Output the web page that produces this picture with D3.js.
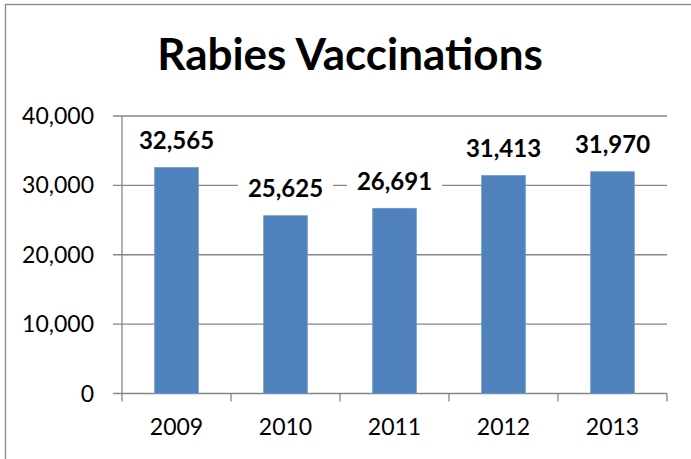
<!DOCTYPE html>
<html>
<head>
<meta charset="utf-8">
<script src="https://cdn.jsdelivr.net/npm/d3@7"></script>
<style>
  html, body { margin: 0; padding: 0; background: #fff; }
  svg { display: block; }
</style>
</head>
<body>
<svg id="chart" width="691" height="459"></svg>
<script>
const categories = ["2009", "2010", "2011", "2012", "2013"];
const values = [32565, 25625, 26691, 31413, 31970];
const yTicks = [0, 10000, 20000, 30000, 40000];
const titleText = "Rabies Vaccinations";

const svg = d3.select("#chart");
const font = "Lato, 'Open Sans', sans-serif";

// outer chart border (right/bottom edges fall outside the picture)
svg.append("rect")
  .attr("x", 5.5).attr("y", 4.5)
  .attr("width", 720).attr("height", 520)
  .attr("fill", "#fff").attr("stroke", "#868686").attr("stroke-width", 1.3);

const plot = { left: 122, right: 667, top: 116, bottom: 393.5 };

const x = d3.scaleBand().domain(categories)
  .range([plot.left, plot.right]).paddingInner(0.6).paddingOuter(0.3);
const y = d3.scaleLinear().domain([0, 40000]).range([plot.bottom, plot.top]);

const fmt = d3.format(",");

// gridlines
svg.append("g").selectAll("line").data(yTicks).join("line")
  .attr("x1", plot.left - 9).attr("x2", plot.right)
  .attr("y1", d => y(d)).attr("y2", d => y(d))
  .attr("stroke", "#868686").attr("stroke-width", 1.3);

// y axis line
svg.append("line")
  .attr("x1", plot.left).attr("x2", plot.left)
  .attr("y1", plot.top).attr("y2", plot.bottom)
  .attr("stroke", "#868686").attr("stroke-width", 1.3);

// x-axis ticks at band boundaries
const step = x.step();
const edges = categories.map((c, i) => plot.left + i * step).concat([plot.right]);
svg.append("g").selectAll("line").data(edges).join("line")
  .attr("x1", d => d).attr("x2", d => d)
  .attr("y1", plot.bottom).attr("y2", plot.bottom + 8)
  .attr("stroke", "#868686").attr("stroke-width", 1.3);

// y tick labels
svg.append("g").selectAll("text").data(yTicks).join("text")
  .attr("x", 94).attr("y", d => y(d))
  .attr("dy", "0.35em")
  .attr("text-anchor", "end")
  .attr("font-family", font).attr("font-size", 23)
  .attr("fill", "#000")
  .text(d => fmt(d));

// x tick labels
svg.append("g").selectAll("text").data(categories).join("text")
  .attr("x", d => x(d) + x.bandwidth() / 2).attr("y", 435)
  .attr("text-anchor", "middle")
  .attr("font-family", font).attr("font-size", 23)
  .attr("fill", "#000")
  .text(d => d);

// bars
svg.append("g").selectAll("rect").data(values).join("rect")
  .attr("x", (d, i) => x(categories[i]))
  .attr("y", d => y(d))
  .attr("width", x.bandwidth())
  .attr("height", d => plot.bottom - y(d))
  .attr("fill", "#4F81BD")
  .attr("stroke", "#6c96cc").attr("stroke-width", 0.8);

// data labels with white background
const lg = svg.append("g");
values.forEach((v, i) => {
  const cx = x(categories[i]) + x.bandwidth() / 2;
  const by = y(v) - 18.5;
  const t = lg.append("text")
    .attr("x", cx).attr("y", by)
    .attr("text-anchor", "middle")
    .attr("font-family", font).attr("font-size", 24).attr("font-weight", "bold")
    .attr("fill", "#000")
    .text(fmt(v));
  const bb = t.node().getBBox();
  lg.insert("rect", () => t.node())
    .attr("x", bb.x - 10).attr("y", bb.y - 2)
    .attr("width", bb.width + 20).attr("height", bb.height + 4)
    .attr("fill", "#fff");
});

// title
svg.append("text")
  .attr("x", 350).attr("y", 70)
  .attr("text-anchor", "middle")
  .attr("font-family", font).attr("font-size", 44).attr("font-weight", "bold")
  .attr("fill", "#000")
  .text(titleText);
</script>
</body>
</html>
